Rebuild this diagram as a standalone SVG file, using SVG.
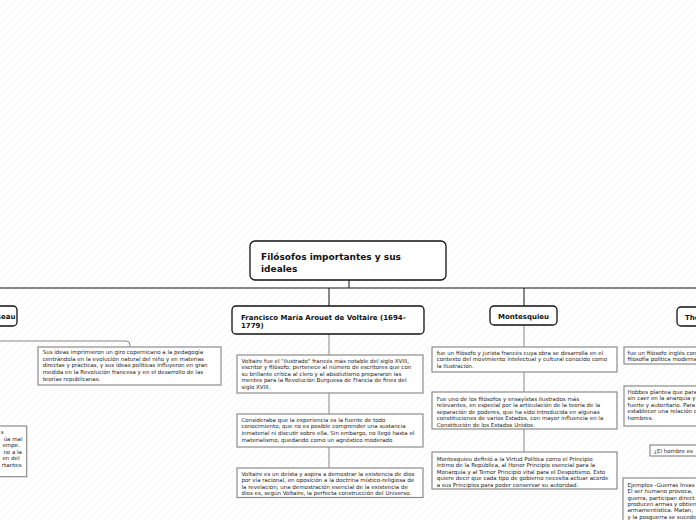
<svg xmlns="http://www.w3.org/2000/svg" width="696" height="520" viewBox="0 0 696 520">
<defs>
<pattern id="hatch" patternUnits="userSpaceOnUse" width="8" height="8">
<path d="M0,8 L8,0 M-2,2 L2,-2 M6,10 L10,6" stroke="#ededed" stroke-width="0.6"/>
</pattern>
</defs>
<style>
.node{fill:#fff;stroke:#111;stroke-width:1.3}
.box{fill:#fff;stroke:#8c8c8c;stroke-width:1.2}
.main{fill:none;stroke:#111;stroke-width:1}
.sub{fill:none;stroke:#888;stroke-width:1}
.t{font-family:"DejaVu Sans","Liberation Sans",sans-serif;font-weight:bold;fill:#111}
.b{font-family:"DejaVu Sans","Liberation Sans",sans-serif;font-size:5.5px;fill:#222}
</style>
<rect width="696" height="520" fill="#fff"/>
<rect width="696" height="520" fill="url(#hatch)"/>

<g id="connectors">
<path class="main" d="M349,280 V288 M0,288 H696 M329,288 V306 M524,288 V306"/>
<path class="sub" d="M329,334 V355 M329,393 V414 M329,447 V468"/>
<path class="sub" d="M524,325 V347 M524,372 V392 M524,429 V452"/>
<path class="sub" d="M0,341 H126 Q130,341 130,345 V347"/>
</g>

<g id="root">
<rect class="node" x="250" y="241" width="196" height="39" rx="5"/>
<text class="t" font-size="9"><tspan x="261" y="260">Filósofos importantes y sus</tspan><tspan x="261" y="272">ideales</tspan></text>
</g>

<g id="rousseau">
<rect class="node" x="-110" y="306" width="127" height="20" rx="4"/>
<text class="t" font-size="7" x="15.5" y="318.8" text-anchor="end">Jean-Jacques Rousseau</text>
</g>

<g id="rousseau-1">
<rect class="box" x="38" y="347" width="183" height="38"/>
<text class="b"><tspan x="42.7" y="354">Sus ideas imprimieron un giro copernicano a la pedagogía</tspan><tspan x="42.7" y="360.7">centrándola en la evolución natural del niño y en materias</tspan><tspan x="42.7" y="367.3">directas y prácticas, y sus ideas políticas influyeron en gran</tspan><tspan x="42.7" y="374">medida en la Revolución francesa y en el desarrollo de las</tspan><tspan x="42.7" y="380.7">teorías republicanas.</tspan></text>
</g>

<g id="rousseau-2">
<rect class="box" x="-110" y="426" width="136.7" height="50.7"/>
<text class="b" text-anchor="end"><tspan x="3.5" y="434">s</tspan><tspan x="22.5" y="440.5">úa mal</tspan><tspan x="20" y="447">empe.</tspan><tspan x="22" y="453.5">no a la</tspan><tspan x="19.5" y="460">en del</tspan><tspan x="21.5" y="466.5">rtantes</tspan></text>
</g>

<g id="voltaire">
<rect class="node" x="232" y="306" width="192" height="28" rx="4"/>
<text class="t" font-size="7"><tspan x="241" y="319.6">Francisco María Arouet de Voltaire (1694-</tspan><tspan x="241" y="328">1779)</tspan></text>
</g>

<g id="voltaire-1">
<rect class="box" x="237" y="355" width="186" height="38"/>
<text class="b"><tspan x="241.5" y="362.5">Voltaire fue el "ilustrado" francés más notable del siglo XVIII,</tspan><tspan x="241.5" y="369.1">escritor y filósofo; pertenece al número de escritores que con</tspan><tspan x="241.5" y="375.7">su brillante crítica al clero y al absolutismo prepararon las</tspan><tspan x="241.5" y="382.3">mentes para la Revolución Burguesa de Francia de fines del</tspan><tspan x="241.5" y="388.9">siglo XVIII.</tspan></text>
</g>

<g id="voltaire-2">
<rect class="box" x="237" y="414" width="186" height="33"/>
<text class="b"><tspan x="241.5" y="421.8">Consideraba que la experiencia es la fuente de todo</tspan><tspan x="241.5" y="428.4">conocimiento, que no es posible comprender una sustancia</tspan><tspan x="241.5" y="435">inmaterial ni discutir sobre ella. Sin embargo, no llegó hasta el</tspan><tspan x="241.5" y="441.6">materialismo, quedando como un agnóstico moderado</tspan></text>
</g>

<g id="voltaire-3">
<rect class="box" x="237" y="468" width="186" height="29.5"/>
<text class="b"><tspan x="241.5" y="475.8">Voltaire es un deísta y aspira a demostrar la existencia de dios</tspan><tspan x="241.5" y="482.2">por vía racional, en oposición a la doctrina místico-religiosa de</tspan><tspan x="241.5" y="488.6">la revelación; una demostración esencial de la existencia de</tspan><tspan x="241.5" y="495">dios es, según Voltaire, la perfecta construcción del Universo.</tspan></text>
</g>

<g id="montesquieu">
<rect class="node" x="490" y="306" width="67" height="19" rx="4"/>
<text class="t" font-size="7" x="523.5" y="318.8" text-anchor="middle">Montesquieu</text>
</g>

<g id="montesquieu-1">
<rect class="box" x="432" y="347" width="185" height="25"/>
<text class="b"><tspan x="436.7" y="354.5">fue un filósofo y jurista francés cuya obra se desarrolla en el</tspan><tspan x="436.7" y="361.1">contexto del movimiento intelectual y cultural conocido como</tspan><tspan x="436.7" y="367.7">la Ilustración.</tspan></text>
</g>

<g id="montesquieu-2">
<rect class="box" x="432" y="392" width="185" height="37"/>
<text class="b"><tspan x="436.7" y="400.5">Fue uno de los filósofos y ensayistas ilustrados más</tspan><tspan x="436.7" y="407">relevantes, en especial por la articulación de la teoría de la</tspan><tspan x="436.7" y="413.5">separación de poderes, que ha sido introducida en algunas</tspan><tspan x="436.7" y="420">constituciones de varios Estados, con mayor influencia en la</tspan><tspan x="436.7" y="426.5">Constitución de los Estados Unidos:</tspan></text>
</g>

<g id="montesquieu-3">
<rect class="box" x="432" y="452" width="185" height="37"/>
<text class="b"><tspan x="436.7" y="460.5">Montesquieu definió a la Virtud Política como el Principio</tspan><tspan x="436.7" y="467">íntimo de la República, al Honor Principio esencial para la</tspan><tspan x="436.7" y="473.5">Monarquía y al Temor Principio vital para el Despotismo. Esto</tspan><tspan x="436.7" y="480">quiere decir que cada tipo de gobierno necesita actuar acorde</tspan><tspan x="436.7" y="486.5">a sus Principios para poder conservar su autoridad.</tspan></text>
</g>

<g id="hobbes">
<rect class="node" x="677" y="307" width="110" height="19" rx="4"/>
<text class="t" font-size="7" x="685" y="319.5">Thomas Hobbes</text>
</g>

<g id="hobbes-1">
<rect class="box" x="624" y="347" width="110" height="17"/>
<text class="b"><tspan x="627.5" y="354.5">fue un filósofo inglés con</tspan><tspan x="627.5" y="361.1">filosofía política moderna</tspan></text>
</g>

<g id="hobbes-2">
<rect class="box" x="624" y="386" width="110" height="40"/>
<text class="b"><tspan x="627.5" y="393.8">Hobbes plantea que para</tspan><tspan x="627.5" y="400.3">sin caer en la anarquía y</tspan><tspan x="627.5" y="406.8">fuerte y autoritario. Para</tspan><tspan x="627.5" y="413.3">establecer una relación c</tspan><tspan x="627.5" y="419.8">hombres.</tspan></text>
</g>

<g id="hobbes-3">
<rect class="box" x="650" y="445" width="80" height="11"/>
<text class="b" x="654" y="452.5">¿El hombre es</text>
</g>

<g id="hobbes-4">
<rect class="box" x="623" y="478" width="110" height="60"/>
<text class="b"><tspan x="627.5" y="486.8">Ejemplos -Guerras Invas</tspan><tspan x="627.5" y="493.1">El ser humano provoca, </tspan><tspan x="627.5" y="499.5">guerra, participan direct</tspan><tspan x="627.5" y="505.8">producen armas y obtien</tspan><tspan x="627.5" y="512">armamentística. Matan, </tspan><tspan x="627.5" y="518.5">y la posguerra se sucede</tspan></text>
</g>
</svg>
